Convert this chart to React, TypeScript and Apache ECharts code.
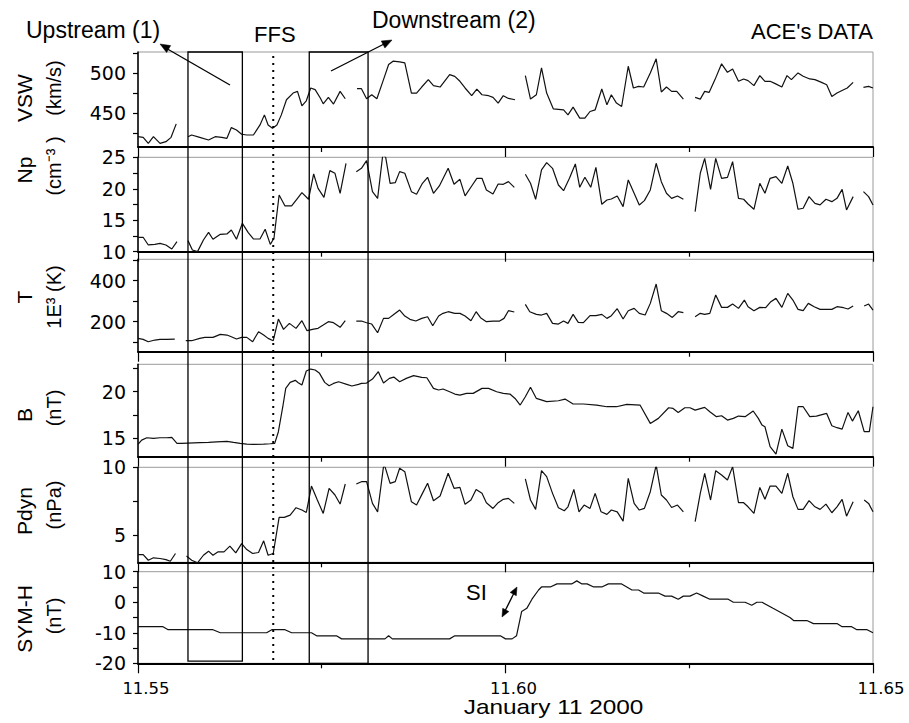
import React, { useEffect, useRef } from "react";
import * as echarts from "echarts";

// ---------------- data ----------------
const X_MIN = 11.55;
const X_MAX = 11.65;
const X_INTERVAL = 0.05;

const VSW_TICKS = [425, 450, 475, 500, 525];
const VSW_LABELS = [450, 500];
const NP_TICKS = [10, 12.5, 15, 17.5, 20, 22.5, 25];
const NP_LABELS = [10, 15, 20, 25];
const T_TICKS = [100, 200, 300, 400, 500];
const T_LABELS = [200, 400];
const B_TICKS = [15, 17.5, 20, 22.5];
const B_LABELS = [15, 20];
const PDYN_TICKS = [5, 7.5, 10];
const PDYN_LABELS = [5, 10];
const SYMH_TICKS = [-20, -15, -10, -5, 0, 5, 10];
const SYMH_LABELS = [-20, -10, 0, 10];

const VSW_SEGMENTS = [
  [[11.55, 420.8], [11.5507, 420.0], [11.5514, 412.5], [11.5521, 420.8], [11.553, 412.5], [11.5538, 414.6], [11.5545, 420.0], [11.5552, 436.7]],
  [[11.5568, 420.8], [11.5573, 422.9], [11.5584, 420.0], [11.5596, 416.7], [11.5605, 420.8], [11.5614, 420.0], [11.5621, 418.8], [11.5627, 432.1], [11.5634, 429.2], [11.5641, 423.8], [11.5648, 422.9], [11.5657, 422.9], [11.5666, 435.4], [11.5672, 447.9], [11.5677, 435.4], [11.5683, 431.3], [11.5689, 435.4], [11.5695, 447.9], [11.5702, 466.7], [11.5711, 475.0], [11.5717, 477.1], [11.5723, 459.2], [11.5729, 465.4], [11.5735, 481.3], [11.5741, 479.2], [11.5748, 468.8], [11.5752, 461.7], [11.5759, 469.6], [11.5766, 461.3], [11.5775, 477.1], [11.5782, 467.9]],
  [[11.5798, 480.4], [11.5804, 480.4], [11.5811, 467.9], [11.5818, 472.9], [11.5825, 467.9], [11.5834, 491.7], [11.5841, 510.4], [11.5847, 514.6], [11.5856, 513.8], [11.5863, 512.5], [11.5872, 475.0], [11.5879, 475.0], [11.5886, 482.5], [11.5895, 491.7], [11.5902, 484.2], [11.5911, 482.5], [11.5924, 497.9], [11.5931, 495.8], [11.5938, 489.6], [11.5945, 481.3], [11.5954, 471.7], [11.5961, 480.0], [11.5968, 472.9], [11.5977, 471.7], [11.5983, 469.6], [11.599, 462.5], [11.5997, 471.7], [11.6004, 468.3], [11.6013, 466.7]],
  [[11.6027, 496.7], [11.6034, 467.5], [11.6042, 472.9], [11.6049, 506.3], [11.6056, 475.0], [11.6065, 455.4], [11.6079, 454.2], [11.6085, 447.9], [11.6092, 457.5], [11.6101, 443.8], [11.6108, 443.8], [11.6115, 452.1], [11.6122, 454.2], [11.6131, 480.0], [11.6138, 460.4], [11.6144, 472.9], [11.6151, 462.5], [11.6158, 458.3], [11.6167, 508.3], [11.6174, 481.3], [11.6181, 483.3], [11.6188, 482.5], [11.6197, 500.0], [11.6205, 517.5], [11.6212, 476.3], [11.6219, 482.5], [11.6226, 477.1], [11.6233, 477.1], [11.6242, 467.5]],
  [[11.6258, 469.6], [11.6265, 467.5], [11.6271, 477.1], [11.6277, 475.8], [11.6285, 491.7], [11.6294, 511.3], [11.6302, 500.8], [11.6309, 505.0], [11.6317, 489.6], [11.6324, 492.5], [11.633, 490.4], [11.6338, 484.2], [11.6346, 496.7], [11.6353, 489.6], [11.636, 489.6], [11.6367, 486.7], [11.6376, 482.5], [11.6383, 496.7], [11.6389, 491.7], [11.6398, 500.0], [11.6405, 495.8], [11.6414, 492.5], [11.6421, 491.7], [11.643, 488.3], [11.6437, 485.4], [11.6444, 470.8], [11.6451, 475.0], [11.646, 479.2], [11.6465, 481.3], [11.6473, 488.3]],
  [[11.6487, 482.1], [11.6494, 483.3], [11.65, 481.3]],
];

const NP_SEGMENTS = [
  [[11.55, 12.29], [11.5507, 12.29], [11.5514, 11.07], [11.5523, 11.17], [11.553, 11.33], [11.5538, 11.07], [11.5546, 10.43], [11.5553, 11.6]],
  [[11.5568, 11.76], [11.5574, 10.27], [11.5581, 10.01], [11.5589, 11.86], [11.5596, 13.08], [11.5602, 11.97], [11.5612, 12.76], [11.5621, 12.82], [11.5627, 13.45], [11.5634, 11.97], [11.5642, 14.51], [11.565, 13.03], [11.5657, 12.02], [11.5666, 12.02], [11.5673, 13.56], [11.568, 11.17], [11.5685, 12.13], [11.5692, 19.01], [11.57, 17.27], [11.5709, 17.27], [11.5716, 18.33], [11.5723, 19.39], [11.5732, 18.33], [11.5739, 22.35], [11.5745, 20.07], [11.5753, 18.64], [11.5761, 22.88], [11.5768, 22.46], [11.5775, 19.28], [11.5783, 24.05]],
  [[11.5797, 22.72], [11.5804, 23.25], [11.5811, 24.47], [11.5819, 19.54], [11.5826, 18.48], [11.5833, 25.37], [11.5837, 25.0], [11.5843, 20.87], [11.585, 20.97], [11.5856, 22.72], [11.5863, 22.46], [11.5872, 19.54], [11.5879, 19.12], [11.5887, 20.87], [11.5894, 21.82], [11.5902, 19.28], [11.591, 20.44], [11.5922, 23.25], [11.593, 20.71], [11.5938, 21.5], [11.5945, 18.86], [11.5954, 20.44], [11.5961, 21.66], [11.5968, 21.66], [11.5974, 19.81], [11.5983, 19.17], [11.599, 20.76], [11.5997, 20.71], [11.6004, 21.13], [11.6012, 20.23]],
  [[11.6027, 22.3], [11.6034, 20.87], [11.6041, 18.33], [11.6049, 22.99], [11.6056, 24.15], [11.6064, 23.25], [11.6072, 20.6], [11.6079, 19.7], [11.6087, 21.66], [11.6095, 23.94], [11.6101, 20.23], [11.6108, 21.82], [11.6116, 20.23], [11.6123, 23.41], [11.6131, 17.53], [11.6138, 18.22], [11.6144, 18.38], [11.6152, 18.86], [11.616, 17.16], [11.6167, 21.4], [11.6175, 19.28], [11.6182, 17.43], [11.6189, 18.11], [11.6197, 19.81], [11.6205, 24.05], [11.6212, 21.13], [11.6219, 19.28], [11.6226, 18.48], [11.6234, 18.86], [11.6242, 18.33]],
  [[11.6258, 16.37], [11.6265, 22.46], [11.6271, 24.84], [11.6279, 19.91], [11.6286, 24.84], [11.6294, 21.66], [11.6302, 21.82], [11.6309, 24.31], [11.6317, 18.48], [11.6324, 18.33], [11.633, 17.58], [11.6338, 16.74], [11.6346, 20.87], [11.6353, 19.28], [11.636, 21.66], [11.6368, 21.93], [11.6376, 20.87], [11.6384, 23.62], [11.6391, 20.87], [11.6398, 16.74], [11.6405, 16.9], [11.6413, 18.75], [11.6421, 17.69], [11.6428, 17.43], [11.6436, 18.33], [11.6444, 17.95], [11.6451, 18.48], [11.6458, 19.91], [11.6464, 16.63], [11.6473, 18.75]],
  [[11.6487, 19.54], [11.6494, 18.75], [11.65, 17.43]],
];

const T_SEGMENTS = [
  [[11.55, 118.7], [11.5507, 113.8], [11.5514, 102.4], [11.5523, 110.6], [11.553, 113.8], [11.5539, 113.8], [11.555, 115.4]],
  [[11.5565, 107.3], [11.5573, 107.3], [11.5584, 118.7], [11.5591, 123.6], [11.5602, 123.6], [11.5612, 138.2], [11.5621, 135.0], [11.5627, 126.8], [11.5634, 115.4], [11.5641, 123.6], [11.5648, 123.6], [11.5656, 102.4], [11.5664, 151.2], [11.5671, 135.0], [11.5677, 118.7], [11.5684, 107.3], [11.5691, 213.0], [11.5698, 162.6], [11.5706, 191.9], [11.5715, 167.5], [11.5723, 204.9], [11.573, 156.1], [11.5739, 164.2], [11.5745, 167.5], [11.5752, 183.7], [11.5759, 200.0], [11.5766, 195.1], [11.5775, 172.4], [11.5782, 204.9]],
  [[11.5797, 203.3], [11.5804, 203.3], [11.5811, 195.1], [11.5818, 188.6], [11.5826, 146.3], [11.5834, 216.3], [11.5841, 216.3], [11.5847, 232.5], [11.5856, 256.9], [11.5863, 227.6], [11.587, 211.4], [11.5878, 203.3], [11.5886, 216.3], [11.5894, 224.4], [11.5901, 180.5], [11.5909, 227.6], [11.5915, 240.7], [11.5922, 248.8], [11.5931, 240.7], [11.5938, 240.7], [11.5945, 227.6], [11.5953, 204.9], [11.596, 248.8], [11.5966, 219.5], [11.5974, 200.0], [11.5983, 203.3], [11.5992, 203.3], [11.5998, 216.3], [11.6004, 253.7], [11.6012, 247.2]],
  [[11.6027, 284.6], [11.6033, 248.8], [11.6042, 235.8], [11.6049, 232.5], [11.6056, 240.7], [11.6064, 191.9], [11.6072, 188.6], [11.6079, 203.3], [11.6085, 191.9], [11.6092, 235.8], [11.6099, 196.7], [11.6106, 195.1], [11.6115, 229.3], [11.6123, 229.3], [11.6131, 235.8], [11.6138, 216.3], [11.6144, 229.3], [11.6152, 263.4], [11.616, 213.0], [11.6167, 253.7], [11.6175, 265.0], [11.6182, 240.7], [11.619, 232.5], [11.6197, 289.4], [11.6205, 383.7], [11.6212, 253.7], [11.6219, 240.7], [11.6227, 221.1], [11.6235, 248.8], [11.6242, 243.9]],
  [[11.6258, 224.4], [11.6265, 240.7], [11.6271, 235.8], [11.6278, 240.7], [11.6286, 330.1], [11.6294, 269.9], [11.6302, 269.9], [11.6309, 286.2], [11.6317, 265.0], [11.6325, 305.7], [11.633, 273.2], [11.6338, 253.7], [11.6346, 269.9], [11.6354, 268.3], [11.6361, 297.6], [11.6368, 313.8], [11.6376, 269.9], [11.6384, 338.2], [11.6391, 305.7], [11.6398, 260.2], [11.6405, 253.7], [11.6412, 289.4], [11.642, 273.2], [11.6428, 260.2], [11.6436, 260.2], [11.6444, 260.2], [11.6451, 273.2], [11.646, 268.3], [11.6466, 261.8], [11.6473, 276.4]],
  [[11.6488, 276.4], [11.6494, 286.2], [11.65, 256.9]],
];

const B_SEGMENTS = [
  [[11.55, 14.35], [11.5505, 14.81], [11.5512, 15.06], [11.5521, 14.99], [11.553, 15.06], [11.5539, 15.06], [11.5546, 15.1], [11.5553, 14.46], [11.5559, 14.46], [11.5568, 14.49], [11.5584, 14.53], [11.5596, 14.56], [11.5607, 14.63], [11.5621, 14.67], [11.563, 14.56], [11.5639, 14.46], [11.5648, 14.38], [11.5657, 14.35], [11.5671, 14.38], [11.568, 14.42], [11.5686, 14.46], [11.5691, 15.71], [11.5697, 18.39], [11.5701, 20.36], [11.5707, 21.0], [11.5714, 21.22], [11.5718, 20.97], [11.5723, 20.72], [11.5729, 22.22], [11.5735, 22.43], [11.5741, 22.33], [11.5747, 21.97], [11.5754, 21.0], [11.576, 20.64], [11.5766, 20.89], [11.5773, 21.07], [11.5784, 20.79], [11.5791, 20.61], [11.58, 20.79], [11.5804, 20.89], [11.5811, 20.93], [11.5819, 21.36], [11.5827, 22.15], [11.5834, 20.93], [11.5842, 21.43], [11.5848, 21.57], [11.5856, 21.07], [11.5865, 21.43], [11.5875, 21.72], [11.5886, 21.54], [11.5893, 21.5], [11.5902, 20.36], [11.5909, 20.18], [11.5915, 20.29], [11.5924, 20.0], [11.5931, 19.75], [11.5938, 19.64], [11.5947, 19.82], [11.5956, 19.82], [11.5968, 20.36], [11.5977, 20.36], [11.5988, 20.0], [11.5997, 19.82], [11.6006, 19.75], [11.6013, 19.28], [11.602, 18.57], [11.6027, 19.46], [11.6034, 20.47], [11.6042, 19.28], [11.6056, 18.93], [11.6072, 19.03], [11.6081, 19.21], [11.6092, 18.68], [11.6106, 18.68], [11.6124, 18.57], [11.6138, 18.39], [11.6151, 18.39], [11.6165, 18.64], [11.6183, 18.57], [11.6197, 16.6], [11.6208, 17.14], [11.6222, 18.28], [11.6228, 18.21], [11.6235, 17.78], [11.6244, 18.28], [11.6251, 18.28], [11.6258, 18.03], [11.6271, 18.32], [11.6278, 17.85], [11.6287, 17.32], [11.6294, 17.42], [11.6302, 16.96], [11.631, 17.14], [11.6317, 17.39], [11.6326, 17.32], [11.6337, 17.93], [11.6344, 17.14], [11.6349, 16.42], [11.6353, 16.24], [11.636, 14.1], [11.6368, 13.31], [11.6376, 15.99], [11.6384, 14.21], [11.6391, 13.92], [11.6398, 18.39], [11.6405, 18.39], [11.6414, 17.32], [11.6423, 17.39], [11.6437, 17.67], [11.6444, 16.35], [11.6451, 16.14], [11.6458, 15.99], [11.6466, 17.78], [11.6472, 16.85], [11.648, 17.96], [11.6488, 15.71], [11.6495, 15.71], [11.65, 18.39]],
];

const PDYN_SEGMENTS = [
  [[11.55, 3.57], [11.5507, 3.57], [11.5514, 3.15], [11.5521, 3.33], [11.553, 3.28], [11.5538, 3.2], [11.5544, 3.08], [11.5551, 3.65]],
  [[11.5566, 3.47], [11.5573, 3.15], [11.5581, 2.96], [11.5589, 3.52], [11.5596, 3.82], [11.5602, 3.52], [11.5609, 3.77], [11.5617, 3.77], [11.5625, 4.19], [11.5633, 3.69], [11.5641, 4.38], [11.5648, 3.94], [11.5656, 3.65], [11.5664, 3.72], [11.5671, 4.58], [11.5677, 3.52], [11.5684, 3.65], [11.5692, 6.31], [11.5699, 6.31], [11.5707, 6.48], [11.5715, 7.02], [11.5723, 6.85], [11.5729, 6.67], [11.5736, 8.62], [11.5744, 7.59], [11.5752, 6.6], [11.576, 8.45], [11.5768, 7.96], [11.5775, 7.29], [11.5782, 8.77]],
  [[11.5797, 8.77], [11.5804, 8.94], [11.5811, 8.94], [11.5819, 7.34], [11.5826, 6.72], [11.5834, 10.05], [11.5836, 10.05], [11.5843, 8.82], [11.585, 8.94], [11.5856, 9.93], [11.5863, 9.68], [11.5872, 7.46], [11.5879, 7.22], [11.5887, 8.08], [11.5894, 8.82], [11.5902, 7.54], [11.5911, 7.88], [11.5922, 9.56], [11.593, 8.45], [11.5938, 8.52], [11.5945, 7.27], [11.5953, 7.59], [11.596, 8.37], [11.5968, 8.08], [11.5974, 7.39], [11.5983, 6.97], [11.599, 7.39], [11.5997, 7.64], [11.6004, 7.71], [11.6012, 7.34]],
  [[11.6027, 9.14], [11.6034, 7.59], [11.6041, 6.9], [11.6049, 9.75], [11.6056, 9.31], [11.6064, 8.08], [11.6072, 7.02], [11.608, 6.8], [11.6085, 7.09], [11.6093, 8.37], [11.61, 6.72], [11.6107, 7.22], [11.6115, 6.97], [11.6122, 8.08], [11.613, 6.72], [11.6138, 6.53], [11.6144, 6.85], [11.6152, 6.72], [11.616, 6.03], [11.6167, 9.19], [11.6175, 7.34], [11.6182, 6.85], [11.6189, 6.97], [11.6197, 8.2], [11.6205, 10.17], [11.6212, 7.96], [11.6219, 7.59], [11.6226, 7.04], [11.6234, 7.22], [11.6242, 6.72]],
  [[11.6258, 5.99], [11.6265, 8.08], [11.6271, 9.56], [11.6279, 7.59], [11.6286, 9.75], [11.6294, 9.43], [11.6302, 9.06], [11.6309, 10.05], [11.6317, 7.39], [11.6324, 7.39], [11.633, 7.09], [11.6338, 6.6], [11.6346, 8.52], [11.6353, 7.64], [11.636, 8.62], [11.6368, 8.62], [11.6376, 8.08], [11.6384, 9.56], [11.6391, 7.83], [11.6398, 6.9], [11.6405, 6.9], [11.6413, 7.54], [11.6421, 7.09], [11.6428, 6.9], [11.6436, 7.29], [11.6444, 6.65], [11.6451, 7.09], [11.6458, 7.64], [11.6464, 6.4], [11.6473, 7.46]],
  [[11.6488, 7.59], [11.6494, 7.34], [11.65, 6.72]],
];

const SYMH_SEGMENTS = [
  [[11.55, -8], [11.5534, -8], [11.5541, -9], [11.5602, -9], [11.5612, -10], [11.5675, -10], [11.5682, -9], [11.57, -9], [11.5709, -10], [11.5736, -10], [11.5743, -11], [11.577, -11], [11.5777, -12], [11.5836, -12], [11.5841, -11], [11.5846, -12], [11.5924, -12], [11.5931, -11], [11.5993, -11], [11.6, -12], [11.6009, -12], [11.6015, -11], [11.6022, -3], [11.6029, -2], [11.6036, 1], [11.6045, 4], [11.6049, 5], [11.6061, 5], [11.607, 6], [11.6083, 6], [11.609, 6], [11.6097, 7], [11.6104, 6], [11.6111, 6], [11.612, 5], [11.6131, 5], [11.614, 6], [11.6158, 6], [11.6172, 4], [11.6181, 4], [11.6188, 3], [11.6208, 3], [11.6217, 2], [11.6226, 2], [11.6235, 1], [11.6242, 2], [11.6251, 2], [11.626, 3], [11.6269, 2], [11.6278, 1], [11.6303, 1], [11.631, 0], [11.6326, 0], [11.6335, -1], [11.6342, 0], [11.6349, 0], [11.6364, -2], [11.6387, -5], [11.6392, -6], [11.641, -6], [11.6419, -7], [11.6451, -7], [11.6458, -8], [11.6471, -8], [11.6478, -9], [11.6492, -9], [11.65, -10]],
];

// annotation times / levels (data coordinates)
const UPSTREAM_BOX = [11.5568, 11.5642];
const DOWNSTREAM_BOX = [11.5733, 11.5813];
const BOX_BOTTOMS = [-19.3, -20];
const FFS_TIME = 11.5684;

// ---------------- layout ----------------
const FONT = '"Liberation Sans", Arial, sans-serif';
const NUM_FONT = '"DejaVu Sans", sans-serif';
const GRID_LEFT = 138;
const GRID_WIDTH = 735;

const PANELS = [
  { top: 52, height: 95, min: 408, max: 526, ticks: VSW_TICKS, labels: VSW_LABELS, segs: VSW_SEGMENTS, t1: "VSW", t2: "(km/s)", y1: 98, y2: 88 },
  { top: 157.3, height: 94.4, min: 10, max: 25, ticks: NP_TICKS, labels: NP_LABELS, segs: NP_SEGMENTS, t1: "Np", t2: "(cm\u207B\u00B3 )", y1: 170, y2: 166 },
  { top: 259.3, height: 92.4, min: 53.7, max: 504.4, ticks: T_TICKS, labels: T_LABELS, segs: T_SEGMENTS, t1: "T", t2: "1E\u00B3 (K)", y1: 297, y2: 297 },
  { top: 364.3, height: 92.4, min: 13.03, max: 22.94, ticks: B_TICKS, labels: B_LABELS, segs: B_SEGMENTS, t1: "B", t2: "(nT)", y1: 415, y2: 408 },
  { top: 467.3, height: 95, min: 3, max: 10, ticks: PDYN_TICKS, labels: PDYN_LABELS, segs: PDYN_SEGMENTS, t1: "Pdyn", t2: "(nPa)", y1: 511, y2: 505 },
  { top: 571.7, height: 91.6, min: -20, max: 10, ticks: SYMH_TICKS, labels: SYMH_LABELS, segs: SYMH_SEGMENTS, t1: "SYM-H", t2: "(nT)", y1: 619, y2: 616 },
];

function arrowHead(x1: number, y1: number, x2: number, y2: number, len = 10, half = 4) {
  const dx = x2 - x1, dy = y2 - y1;
  const L = Math.hypot(dx, dy);
  const ux = dx / L, uy = dy / L;
  const bx = x2 - ux * len, by = y2 - uy * len;
  const px = -uy, py = ux;
  return {
    type: "polygon",
    shape: { points: [[x2, y2], [bx + px * half, by + py * half], [bx - px * half, by - py * half]] },
    style: { fill: "#000", stroke: "#000", lineWidth: 0.5 },
    z: 20,
  };
}

function arrowLine(x1: number, y1: number, x2: number, y2: number) {
  return { type: "line", shape: { x1, y1, x2, y2 }, style: { stroke: "#000", lineWidth: 1.3 }, z: 20 };
}

export default function App() {
  const ref = useRef<HTMLDivElement>(null);

  useEffect(() => {
    const el = ref.current;
    if (!el) return;
    const chart = echarts.init(el, null, { renderer: "svg" });
    const last = PANELS.length - 1;

    const grids = PANELS.map((p) => ({
      left: GRID_LEFT, width: GRID_WIDTH, top: p.top, height: p.height,
      show: true, borderColor: "#9a9a9a", borderWidth: 1, backgroundColor: "transparent",
    }));

    const xAxes = PANELS.map((p, i) => ({
      type: "value", gridIndex: i, min: X_MIN, max: X_MAX, interval: X_INTERVAL,
      axisLine: { show: true, onZero: false, lineStyle: { color: "#000", width: 2 } },
      axisTick: { show: true, length: 10, lineStyle: { color: "#000", width: 1.2 } },
      minorTick: { show: true, splitNumber: 2, length: 5, lineStyle: { color: "#000", width: 1.2 } },
      axisLabel: {
        show: i === last, showMinLabel: true, showMaxLabel: true,
        formatter: (v: number) => v.toFixed(2),
        fontSize: 16.5, fontFamily: NUM_FONT, color: "#000", margin: 17, padding: [0, 0, 0, 16],
      },
      splitLine: { show: false },
      minorSplitLine: { show: false },
    }));

    const yAxes = PANELS.map((p, i) => ({
      type: "value", gridIndex: i, min: p.min, max: p.max,
      axisLine: { show: true, onZero: false, lineStyle: { color: "#000", width: 1.5 } },
      axisTick: { show: true, length: 5, customValues: p.ticks, lineStyle: { color: "#000", width: 1.2 } },
      axisLabel: { show: true, customValues: p.labels, fontSize: 19, fontFamily: NUM_FONT, color: "#000", margin: 12 },
      splitLine: { show: false },
    }));

    const series: any[] = [];
    PANELS.forEach((p, i) => {
      p.segs.forEach((seg) => {
        series.push({
          type: "line", xAxisIndex: i, yAxisIndex: i, data: seg,
          showSymbol: false, symbol: "none", silent: true, clip: true,
          lineStyle: { color: "#111", width: 1.2 },
        });
      });
    });

    chart.setOption({
      animation: false,
      backgroundColor: "#fff",
      grid: grids,
      xAxis: xAxes,
      yAxis: yAxes,
      series,
    });

    const gx = (v: number) => chart.convertToPixel({ xAxisIndex: last }, v) as number;
    const gy = (axis: number, v: number) => chart.convertToPixel({ yAxisIndex: axis }, v) as number;

    const topY = gy(0, PANELS[0].max);
    const boxes = [UPSTREAM_BOX, DOWNSTREAM_BOX].map((b, k) => {
      const x0 = gx(b[0]), x1 = gx(b[1]);
      const yb = gy(last, BOX_BOTTOMS[k]);
      return {
        type: "rect",
        shape: { x: x0, y: topY, width: x1 - x0, height: yb - topY },
        style: { fill: "none", stroke: "#000", lineWidth: 1.3 },
        z: 15,
      };
    });
    const fx = gx(FFS_TIME);
    const ffsLine = {
      type: "line",
      shape: { x1: fx, y1: gy(0, 521), x2: fx, y2: gy(last, -19) },
      style: { stroke: "#000", lineWidth: 2, lineDash: [2, 5] },
      z: 15,
    };

    const txt = (text: string, x: number, y: number, size: number, align = "left", extra: any = {}) => ({
      type: "text", x, y, z: 20, ...extra,
      style: { text, fontSize: size, fontFamily: FONT, fill: "#000", align, verticalAlign: "middle" },
    });

    const titles: any[] = [];
    PANELS.forEach((p) => {
      titles.push(txt(p.t1, 24, p.y1, 21, "center", { rotation: Math.PI / 2 }));
      titles.push(txt(p.t2, 54, p.y2, 20, "center", { rotation: Math.PI / 2 }));
    });

    const graphic = [
      ...boxes,
      ffsLine,
      txt("Upstream (1)", 26, 30, 23),
      txt("FFS", 254, 34, 22),
      txt("Downstream (2)", 372, 20, 23),
      txt("ACE's DATA", 873, 31, 22, "right"),
      txt("SI", 466, 592, 22),
      txt("January 11 2000", 659, 707, 21, "center", { scaleX: 1.16, originX: 659, originY: 707 }),
      arrowLine(230, 85, 164, 47), arrowHead(230, 85, 160, 44),
      arrowLine(331, 71, 388, 42), arrowHead(331, 71, 392, 40),
      arrowLine(505, 611, 514, 593), arrowHead(510, 602, 502, 617, 8, 3.5), arrowHead(509, 602, 517, 587, 8, 3.5),
      ...titles,
    ];

    chart.setOption({ graphic });

    return () => chart.dispose();
  }, []);

  return (
    <div
      ref={ref}
      style={{ position: "absolute", left: 0, top: 0, width: 909, height: 723, background: "#fff" }}
    />
  );
}
